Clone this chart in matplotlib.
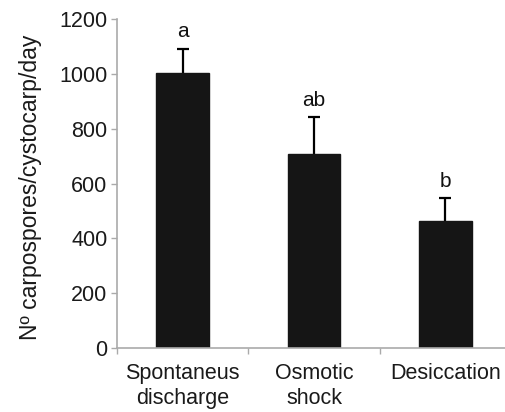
import numpy as np
import matplotlib.pyplot as plt

plt.rcParams['font.family'] = ['Liberation Sans', 'DejaVu Sans']

# treatments and carpospore release (mean + SE)
treatments = ['Spontaneus\ndischarge', 'Osmotic\nshock', 'Desiccation']
means = [1004, 708, 464]
errors = [88, 133, 82]
letters = ['a', 'ab', 'b']
yticks = [0, 200, 400, 600, 800, 1000, 1200]

fig = plt.figure(figsize=(5.05, 4.12), dpi=100)
ax = fig.add_axes([0.2317, 0.1553, 0.780, 0.7985])

x = np.arange(len(treatments))
tops = np.array(means) + np.array(errors)
ax.bar(x, means, width=0.4, color='#151515', edgecolor='#151515', zorder=2)
# upper half error bars only
ax.vlines(x, means, tops, color='black', lw=1.6, zorder=1)
ax.hlines(tops, x - 0.045, x + 0.045, color='black', lw=1.6, zorder=1)

# significance letters above the error bars
for xi, t, lab in zip(x, tops, letters):
    ax.text(xi, t + 28, lab, ha='center', va='bottom', fontsize=15, color='#111111')

ax.set_xlim(-0.5, 2.5)
ax.set_ylim(0, 1200)
ax.set_yticks(yticks)
ax.set_xticks(x)
ax.set_xticklabels(treatments, fontsize=15.5, linespacing=1.25, color='#1a1a1a')
ax.set_xticks([-0.5, 0.5, 1.5, 2.5], minor=True)
ax.tick_params(axis='x', which='major', length=0, pad=11)
ax.tick_params(axis='x', which='minor', length=4, color='#aaaaaa', width=1)
ax.tick_params(axis='y', length=4, color='#aaaaaa', width=1, labelsize=15.5,
               labelcolor='#1a1a1a', pad=3)

for side in ['top', 'right']:
    ax.spines[side].set_visible(False)
for side in ['left', 'bottom']:
    ax.spines[side].set_color('#aaaaaa')
    ax.spines[side].set_linewidth(1.2)

ax.set_ylabel('Nº carpospores/cystocarp/day', fontsize=16.5, color='#1a1a1a')
ax.yaxis.set_label_coords(-0.19, 0.49)

fig.savefig('out.png', dpi=100)
